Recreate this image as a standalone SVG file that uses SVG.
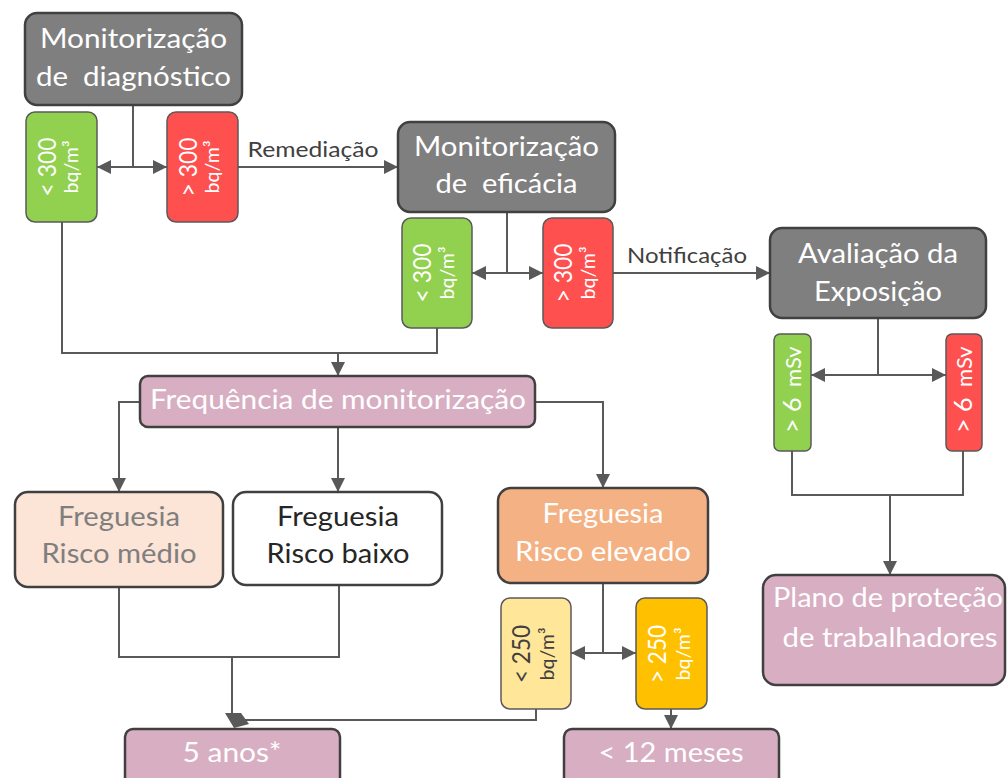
<svg xmlns="http://www.w3.org/2000/svg" width="1007" height="778" viewBox="0 0 1007 778">
<style>
text{font-family:Lato,"Open Sans","DejaVu Sans",sans-serif;text-anchor:middle}
.big{font-size:26px;fill:#fff}
.dark{fill:#404040}
.mid{fill:#7f7f7f}
.lbl{font-size:21px;fill:#404040}
.r1{font-size:25px}
.r2{font-size:19px}
.ms{font-size:22px}
.node{stroke:#404040;stroke-width:2.5}
.small{stroke:#595959;stroke-width:1.5}
.gray{fill:#7f7f7f}
.green{fill:#92d050}
.red{fill:#ff5050}
.pink{fill:#d8aec2}
.conn{fill:none;stroke:#595959;stroke-width:2}
.arr{marker-end:url(#ah)}
</style>
<defs>
<marker id="ah" viewBox="0 0 14 14" refX="14" refY="7" markerWidth="14" markerHeight="14" markerUnits="userSpaceOnUse" orient="auto">
<path d="M0,0 L14,7 L0,14 z" fill="#595959"/>
</marker>
</defs>
<rect width="1007" height="778" fill="#fff"/>

<g id="connectors">
<path class="conn" d="M133,105 V167"/>
<path class="conn arr" d="M133,167 H97"/>
<path class="conn arr" d="M133,167 H167"/>
<path class="conn arr" d="M238,167 H398"/>
<path class="conn" d="M507,212 V273"/>
<path class="conn arr" d="M507,273 H472"/>
<path class="conn arr" d="M507,273 H543"/>
<path class="conn arr" d="M613,273 H770"/>
<path class="conn" d="M878,318 V375"/>
<path class="conn arr" d="M878,375 H811"/>
<path class="conn arr" d="M878,375 H946"/>
<path class="conn" d="M62,222 V353 H437 V328"/>
<path class="conn arr" d="M338,353 V376"/>
<path class="conn arr" d="M140,402 H119 V492"/>
<path class="conn arr" d="M338,427 V492"/>
<path class="conn arr" d="M535,402 H603 V488"/>
<path class="conn" d="M603,583 V653"/>
<path class="conn arr" d="M603,653 H571"/>
<path class="conn arr" d="M603,653 H636"/>
<path class="conn" d="M119,587 V657 H339 V585"/>
<path class="conn" d="M232,657 V714"/>
<path class="conn" d="M536,709 V720 H244"/>
<polygon points="225,713 241,713 249,724 234,728" fill="#595959"/>
<path class="conn" d="M792,451 V495 H963 V451"/>
<path class="conn arr" d="M890,495 V575"/>
<path class="conn arr" d="M671,709 V729"/>
<text class="lbl" x="313" y="157" textLength="131" lengthAdjust="spacingAndGlyphs">Remediação</text>
<text class="lbl" x="687" y="263" textLength="120" lengthAdjust="spacingAndGlyphs">Notificação</text>
</g>

<g id="diagnostico">
<rect class="node gray" x="25" y="13" width="217" height="92" rx="12"/>
<text class="big" x="133.5" y="48" textLength="187" lengthAdjust="spacingAndGlyphs">Monitorização</text>
<text class="big" x="133.5" y="86" textLength="195" lengthAdjust="spacingAndGlyphs" xml:space="preserve">de  diagnóstico</text>
</g>
<g id="diag-baixo">
<rect class="small green" x="26" y="112" width="71" height="110" rx="9"/>
<g transform="translate(61.5,167) rotate(-90)">
<text class="r1" x="0" y="-6" fill="#fff" textLength="59" lengthAdjust="spacingAndGlyphs">&lt; 300</text>
<text class="r2" x="0" y="16" fill="#fff" textLength="53" lengthAdjust="spacingAndGlyphs">bq/m³</text>
</g>
</g>
<g id="diag-alto">
<rect class="small red" x="167" y="112" width="71" height="110" rx="9"/>
<g transform="translate(202.5,167) rotate(-90)">
<text class="r1" x="0" y="-6" fill="#fff" textLength="59" lengthAdjust="spacingAndGlyphs">&gt; 300</text>
<text class="r2" x="0" y="16" fill="#fff" textLength="53" lengthAdjust="spacingAndGlyphs">bq/m³</text>
</g>
</g>

<g id="eficacia">
<rect class="node gray" x="398" y="122" width="217" height="90" rx="12"/>
<text class="big" x="506.5" y="156" textLength="185" lengthAdjust="spacingAndGlyphs">Monitorização</text>
<text class="big" x="506.5" y="193" textLength="142" lengthAdjust="spacingAndGlyphs" xml:space="preserve">de  eficácia</text>
</g>
<g id="efic-baixo">
<rect class="small green" x="402" y="218" width="70" height="110" rx="9"/>
<g transform="translate(437,273) rotate(-90)">
<text class="r1" x="0" y="-6" fill="#fff" textLength="59" lengthAdjust="spacingAndGlyphs">&lt; 300</text>
<text class="r2" x="0" y="17" fill="#fff" textLength="53" lengthAdjust="spacingAndGlyphs">bq/m³</text>
</g>
</g>
<g id="efic-alto">
<rect class="small red" x="543" y="218" width="70" height="110" rx="9"/>
<g transform="translate(578,273) rotate(-90)">
<text class="r1" x="0" y="-6" fill="#fff" textLength="59" lengthAdjust="spacingAndGlyphs">&gt; 300</text>
<text class="r2" x="0" y="17" fill="#fff" textLength="53" lengthAdjust="spacingAndGlyphs">bq/m³</text>
</g>
</g>

<g id="avaliacao">
<rect class="node gray" x="770" y="228" width="216" height="90" rx="12"/>
<text class="big" x="878" y="263" textLength="160" lengthAdjust="spacingAndGlyphs">Avaliação da</text>
<text class="big" x="878" y="301" textLength="128" lengthAdjust="spacingAndGlyphs">Exposição</text>
</g>
<g id="aval-verde">
<rect class="small green" x="774" y="334" width="37" height="117" rx="6"/>
<g transform="translate(792.5,393) rotate(-90)">
<text x="-40" y="8" fill="#fff" style="text-anchor:start"><tspan class="r1">&gt; 6</tspan><tspan class="ms" x="6">mSv</tspan></text>
</g>
</g>
<g id="aval-vermelho">
<rect class="small red" x="946" y="334" width="36" height="117" rx="6"/>
<g transform="translate(964,393) rotate(-90)">
<text x="-40" y="8" fill="#fff" style="text-anchor:start"><tspan class="r1">&gt; 6</tspan><tspan class="ms" x="6">mSv</tspan></text>
</g>
</g>

<g id="frequencia">
<rect class="node pink" x="140" y="376" width="395" height="51" rx="8"/>
<text class="big" x="338" y="409" textLength="376" lengthAdjust="spacingAndGlyphs">Frequência de monitorização</text>
</g>

<g id="risco-medio">
<rect class="node" fill="#fce4d6" x="15" y="492" width="208" height="95" rx="13"/>
<text class="big mid" x="119" y="526" textLength="122" lengthAdjust="spacingAndGlyphs">Freguesia</text>
<text class="big mid" x="119" y="563" textLength="155" lengthAdjust="spacingAndGlyphs">Risco médio</text>
</g>
<g id="risco-baixo">
<rect class="node" fill="#fff" x="233" y="492" width="209" height="93" rx="13"/>
<text class="big" style="fill:#262626" x="338" y="526" textLength="122" lengthAdjust="spacingAndGlyphs">Freguesia</text>
<text class="big" style="fill:#262626" x="338" y="563" textLength="143" lengthAdjust="spacingAndGlyphs">Risco baixo</text>
</g>
<g id="risco-elevado">
<rect class="node" fill="#f4b183" x="498" y="488" width="210" height="95" rx="13"/>
<text class="big" x="603" y="523" textLength="121" lengthAdjust="spacingAndGlyphs">Freguesia</text>
<text class="big" x="603" y="561" textLength="176" lengthAdjust="spacingAndGlyphs">Risco elevado</text>
</g>
<g id="elev-baixo">
<rect class="small" fill="#ffe699" x="501" y="598" width="70" height="111" rx="9"/>
<g transform="translate(536,654) rotate(-90)">
<text class="r1 dark" x="0" y="-6" textLength="58" lengthAdjust="spacingAndGlyphs">&lt; 250</text>
<text class="r2 dark" x="0" y="18" textLength="53" lengthAdjust="spacingAndGlyphs">bq/m³</text>
</g>
</g>
<g id="elev-alto">
<rect class="small" fill="#ffc000" x="636" y="598" width="71" height="111" rx="9"/>
<g transform="translate(671.5,654) rotate(-90)">
<text class="r1" x="0" y="-6" fill="#fff" textLength="58" lengthAdjust="spacingAndGlyphs">&gt; 250</text>
<text class="r2" x="0" y="18" fill="#fff" textLength="53" lengthAdjust="spacingAndGlyphs">bq/m³</text>
</g>
</g>

<g id="plano">
<rect class="node pink" x="763" y="575" width="242" height="110" rx="13"/>
<text class="big" x="888" y="607" textLength="230" lengthAdjust="spacingAndGlyphs">Plano de proteção</text>
<text class="big" x="890" y="647" textLength="215" lengthAdjust="spacingAndGlyphs">de trabalhadores</text>
</g>
<g id="cinco-anos">
<rect class="node pink" x="125" y="729" width="215" height="60" rx="8"/>
<text class="big" x="232" y="762" textLength="99" lengthAdjust="spacingAndGlyphs">5 anos*</text>
</g>
<g id="doze-meses">
<rect class="node pink" x="564" y="729" width="215" height="60" rx="8"/>
<text class="big" x="671" y="762" textLength="145" lengthAdjust="spacingAndGlyphs">&lt; 12 meses</text>
</g>
</svg>
